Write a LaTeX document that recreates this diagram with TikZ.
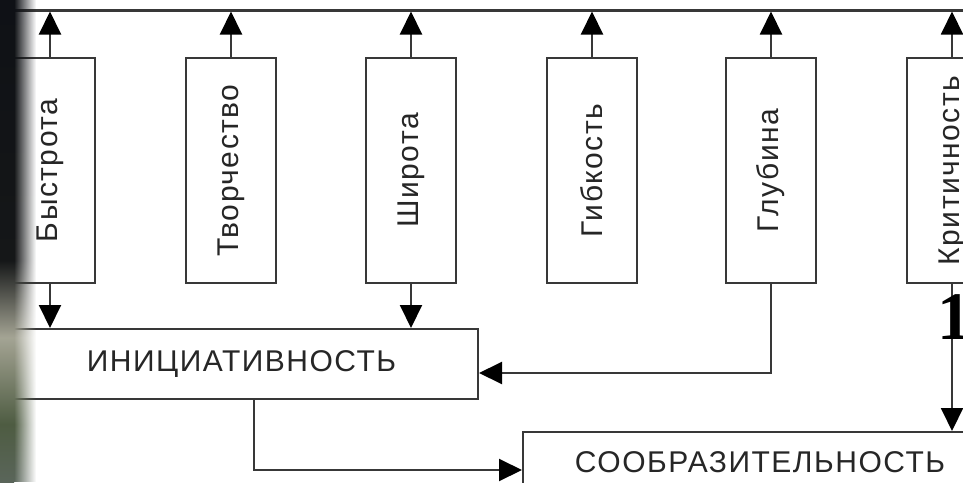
\documentclass[tikz,border=0pt]{standalone}
\usepackage{fontspec}
\newfontfamily\arial[LetterSpace=5]{Liberation Sans}
\newfontfamily\timesf{Liberation Serif}
\usetikzlibrary{arrows.meta,fadings}
\definecolor{ln}{HTML}{383838}
\definecolor{tx}{HTML}{262626}
\definecolor{e1}{HTML}{1F2A55}
\definecolor{e2}{HTML}{0A0C14}
\definecolor{e3}{HTML}{151718}
\definecolor{e4}{HTML}{A4A494}
\definecolor{e5}{HTML}{4E5C42}
\definecolor{e6}{HTML}{6A727A}
\definecolor{e7}{HTML}{8890A0}
\pgfdeclareverticalshading{edgeshade}{100bp}{color(0bp)=(e7); color(17bp)=(e6); color(31bp)=(e5); color(40bp)=(e4); color(48bp)=(e3); color(97bp)=(e2); color(100bp)=(e1)}
\tikzfading[name=fadeR, left color=transparent!0, right color=transparent!100]
\begin{document}
\begin{tikzpicture}[x=1pt,y=-1pt,
  vbox/.style={draw=ln, line width=2pt, minimum width=90pt, minimum height=225pt, inner sep=0pt},
  vtext/.style={rotate=90, text=tx, font=\arial\fontsize{30}{36}\selectfont, inner sep=0pt},
  hbox/.style={draw=ln, line width=2pt, inner sep=0pt, text=tx, font=\arial\fontsize{30}{36}\selectfont},
  conn/.style={draw=ln, line width=2pt, -{Triangle[length=23pt,width=22pt,color=black]}},
  bus/.style={draw=ln, line width=3pt}]
\useasboundingbox (0,0) rectangle (963,482);
\fill[white] (0,0) rectangle (963,482);
% top bus
\coordinate (busL) at (0,10);
\coordinate (busR) at (963,10);
\draw[bus] (busL) -- (busR);
\coordinate (busB) at (0,11.5);
% boxes
\node[vbox] (b1) at (50,170.5) {};
\node[vbox] (b2) at (231,170.5) {};
\node[vbox] (b3) at (411,170.5) {};
\node[vbox] (b4) at (592,170.5) {};
\node[vbox] (b5) at (771,170.5) {};
\node[vbox] (b6) at (952,170.5) {};
\node[vtext] at (b1) {Быстрота};
\node[vtext] at (b2) {Творчество};
\node[vtext] at (b3) {Широта};
\node[vtext] at (b4) {Гибкость};
\node[vtext] at (b5) {Глубина};
\node[vtext] at (b6) {Критичность};
% lower boxes
\node[hbox, minimum width=473pt, minimum height=70pt] (init) at (241.5,364) {ИНИЦИАТИВНОСТЬ};
\node[hbox, minimum width=474pt, minimum height=60pt] (soob) at (760,462) {СООБРАЗИТЕЛЬНОСТЬ};
% up arrows
\foreach \b in {b1,b2,b3,b4,b5,b6}
  \draw[conn] (\b.north) -- (\b.north |- busB);
% down arrows into init
\draw[conn] (b1.south) -- (b1.south |- init.north);
\draw[conn] (b3.south) -- (b3.south |- init.north);
% Глубина -> init
\path (init.east) ++(0,9) coordinate (initin);
\draw[conn] (b5.south) |- (initin);
% init -> soob
\path (init.south west) ++(250,0) coordinate (initout);
\path (soob.west) ++(0,8) coordinate (soobin);
\draw[conn] (initout) |- (soobin);
% Критичность -> soob
\draw[conn] (b6.south) -- (b6.south |- soob.north);
% big digit
\node[anchor=base west, inner sep=0pt, font=\timesf\bfseries\fontsize{68}{68}\selectfont] (one) at (937,339) {1};
% left photo edge
\shade[shading=edgeshade] (0,0) rectangle (14,482);
\shade[shading=edgeshade, path fading=fadeR] (14,0) rectangle (36,482);
\end{tikzpicture}
\end{document}
